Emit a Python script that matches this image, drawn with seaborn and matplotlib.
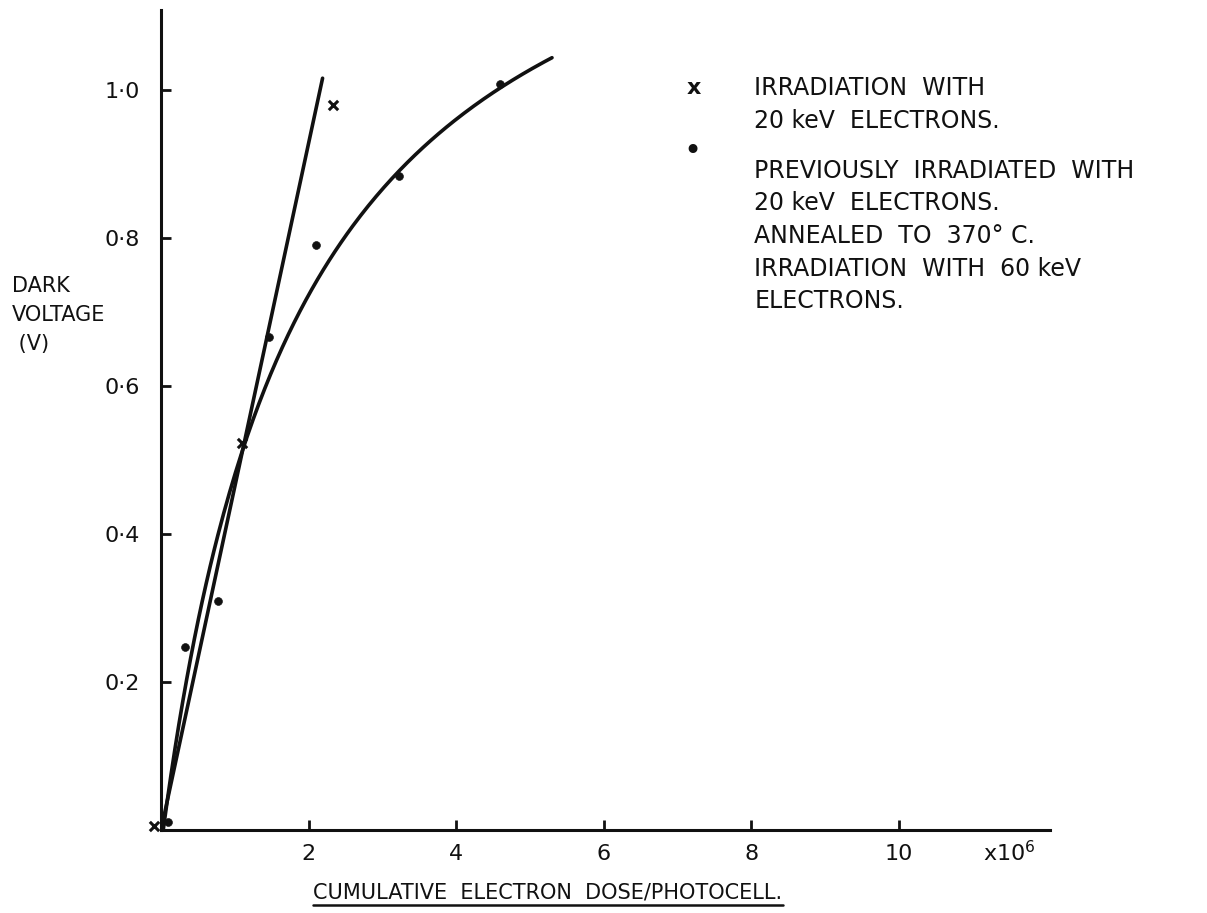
import numpy as np
import pandas as pd
import matplotlib
matplotlib.use("Agg")
import matplotlib.pyplot as plt
from matplotlib.lines import Line2D
import seaborn as sns

# Measured points: dose in units of 1e6 electrons per photocell, dark voltage in V
cross_dose = [-0.09, 1.10, 2.33]
cross_volt = [0.005, 0.523, 0.980]
dot_dose = [0.09, 0.33, 0.77, 1.47, 2.10, 3.22, 4.59]
dot_volt = [0.011, 0.247, 0.310, 0.666, 0.790, 0.884, 1.008]

# Straight-line fit for the 20 keV irradiation (end points)
line20_dose = [0.0, 2.19]
line20_volt = [0.0, 1.016]

# Saturating fit for the 60 keV irradiation: V = Vmax * d / (K + d), d = D - D0
fit60_Vmax, fit60_K, fit60_D0, fit60_Dmax = 1.42, 1.90, 0.03, 5.30

x_ticks = [2, 4, 6, 8, 10]
x_ticklabels = ["2", "4", "6", "8", "10"]
y_ticks = [0.2, 0.4, 0.6, 0.8, 1.0]
y_ticklabels = ["0·2", "0·4", "0·6", "0·8", "1·0"]

legend_cross = ["IRRADIATION  WITH", "20 keV  ELECTRONS."]
legend_dot = ["PREVIOUSLY  IRRADIATED  WITH", "20 keV  ELECTRONS.",
              "ANNEALED  TO  370° C.", "IRRADIATION  WITH  60 keV", "ELECTRONS."]

sns.set_theme(style="white")
plt.rcParams["font.family"] = ["DejaVu Sans"]
ink = "#111111"

fig = plt.figure(figsize=(12.07, 9.13), dpi=100)
ax = fig.add_axes([0.1334, 0.0909, 0.7365, 0.898])

crosses = pd.DataFrame({"dose": cross_dose, "volt": cross_volt})
dots = pd.DataFrame({"dose": dot_dose, "volt": dot_volt})
line20 = pd.DataFrame({"dose": line20_dose, "volt": line20_volt})
d_fit = np.linspace(fit60_D0, fit60_Dmax, 200)
fit60 = pd.DataFrame({"dose": d_fit,
                      "volt": fit60_Vmax * (d_fit - fit60_D0) / (fit60_K + d_fit - fit60_D0)})

sns.lineplot(data=line20, x="dose", y="volt", ax=ax, color=ink, lw=2.6,
             estimator=None, sort=True)
sns.lineplot(data=fit60, x="dose", y="volt", ax=ax, color=ink, lw=2.6,
             estimator=None, sort=True)
sns.scatterplot(data=crosses, x="dose", y="volt", ax=ax, marker="x", s=45,
                color=ink, linewidth=2.2, clip_on=False, zorder=5)
sns.scatterplot(data=dots, x="dose", y="volt", ax=ax, marker="o", s=32,
                color=ink, edgecolor=ink, clip_on=False, zorder=5)

ax.set_xlim(0, 12.05)
ax.set_ylim(0, 1.108)
ax.set_xlabel("")
ax.set_ylabel("")
for side in ["top", "right"]:
    ax.spines[side].set_visible(False)
for side in ["left", "bottom"]:
    ax.spines[side].set_linewidth(2.2)
    ax.spines[side].set_color(ink)

ax.set_xticks(x_ticks)
ax.set_xticklabels(x_ticklabels)
ax.set_yticks(y_ticks)
ax.set_yticklabels(y_ticklabels)
ax.tick_params(axis="both", direction="in", length=7, width=2, color=ink,
               labelsize=16, labelcolor=ink, bottom=True, left=True)
ax.tick_params(axis="x", pad=10)
ax.tick_params(axis="y", pad=15)

# Multiplier for the dose axis
ax.text(11.14, -0.030, r"x10$^{6}$", transform=ax.transData, fontsize=16,
        color=ink, ha="left", va="center")

# Axis titles
fig.text(0.010, 0.655, "DARK\nVOLTAGE\n (V)", fontsize=15, color=ink,
         ha="left", va="center", linespacing=1.55)
xl = fig.text(0.454, 0.012, "CUMULATIVE  ELECTRON  DOSE/PHOTOCELL.", fontsize=15,
              color=ink, ha="center", va="bottom")
fig.canvas.draw()
bb = xl.get_window_extent().transformed(fig.transFigure.inverted())
fig.add_artist(Line2D([bb.x0, bb.x1], [bb.y0 - 0.003, bb.y0 - 0.003],
                      transform=fig.transFigure, color=ink, lw=1.8))

# Key
fig.text(0.575, 0.9036, "x", fontsize=16, color=ink, ha="center", va="center",
         fontweight="bold")
fig.text(0.5735, 0.834, "•", fontsize=22, color=ink, ha="center", va="center")
fig.text(0.625, 0.8855, "\n".join(legend_cross), fontsize=17, color=ink,
         ha="left", va="center", linespacing=1.45)
fig.text(0.625, 0.7415, "\n".join(legend_dot), fontsize=17, color=ink,
         ha="left", va="center", linespacing=1.45)

fig.savefig("out.png", dpi=100, facecolor="white")
